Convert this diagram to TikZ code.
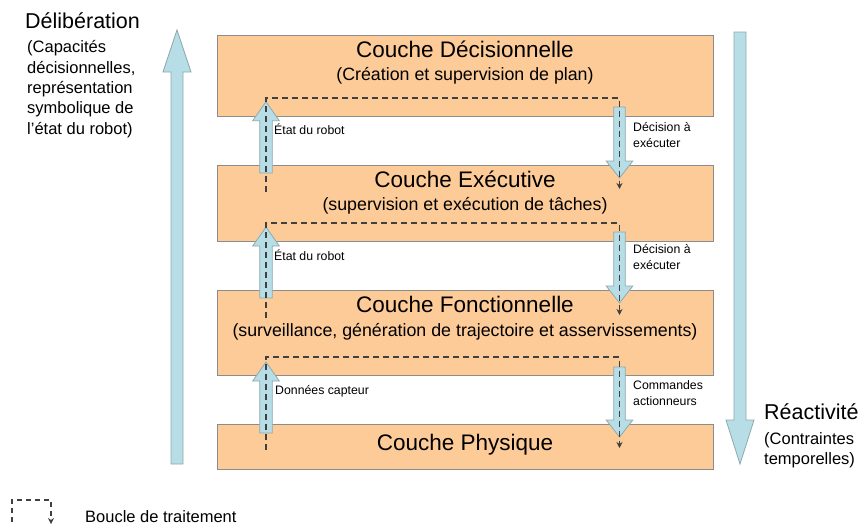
\documentclass[tikz,border=0pt]{standalone}
\usepackage{fontspec}
\setmainfont{Liberation Sans}
\usetikzlibrary{arrows.meta}
\definecolor{layerfill}{HTML}{FDCB98}
\definecolor{layerline}{HTML}{8C8C8C}
\definecolor{arrfill}{HTML}{B7DEE6}
\definecolor{arrline}{HTML}{8FA9AE}
\definecolor{loopcol}{HTML}{404040}
\tikzset{
  layer/.style={draw=layerline, fill=layerfill, line width=0.9pt},
  blockarrow/.style={draw=arrline, fill=arrfill, line width=0.8pt, line join=miter},
  loopline/.style={draw=loopcol, line width=1.7pt, dash pattern=on 6pt off 4pt, -{Stealth[length=6pt,width=6pt]}},
  title/.style={anchor=base, font=\fontsize{22.5}{25}\selectfont, inner sep=0pt},
  subtitle/.style={anchor=base, font=\fontsize{17.8}{20}\selectfont, inner sep=0pt},
  lbl/.style={anchor=base west, font=\fontsize{12.3}{16}\selectfont, inner sep=0pt, align=left},
  side/.style={anchor=base west, inner sep=0pt, align=left},
}
\begin{document}
\begin{tikzpicture}[x=1pt,y=-1pt]
\useasboundingbox (0,0) rectangle (862,531);
% layers
\path[layer] (217.5,35) rectangle (713,116);
\path[layer] (217.5,165) rectangle (713,241);
\path[layer] (217.5,290) rectangle (713,375);
\path[layer] (217.5,424) rectangle (713,469);
\node[title] (t1) at (465,57) {Couche Décisionnelle};
\node[subtitle] (s1) at (465,80) {(Création et supervision de plan)};
\node[title] (t2) at (465,187) {Couche Exécutive};
\node[subtitle] (s2) at (465,210) {(supervision et exécution de tâches)};
\node[title] (t3) at (465,312) {Couche Fonctionnelle};
\node[subtitle] (s3) at (465,336) {(surveillance, génération de trajectoire et asservissements)};
\node[title] (t4) at (465,450) {Couche Physique};
% big arrows
\path[blockarrow] (171,464) -- (171,72) -- (163,72) -- (177,30) -- (191,72) -- (183,72) -- (183,464) -- cycle;
\path[blockarrow] (734,32) -- (734,420) -- (726,420) -- (740,464) -- (754,420) -- (746,420) -- (746,32) -- cycle;
% small up arrows (centre x 266)
\foreach \t/\b in {101.7/173, 227/298, 362/433}{
  \path[blockarrow] (259.7,\b) -- (259.7,\t+19) -- (252.7,\t+19) -- (266,\t) -- (279.3,\t+19) -- (272.3,\t+19) -- (272.3,\b) -- cycle;
}
% small down arrows (centre x 619.5)
\foreach \t/\b in {107/178, 232/303, 367/437}{
  \path[blockarrow] (613.7,\t) -- (613.7,\b-17) -- (606.2,\b-17) -- (619.5,\b) -- (632.8,\b-17) -- (625.3,\b-17) -- (625.3,\t) -- cycle;
}
% processing loops
\coordinate (a1) at (266,192); \coordinate (b1) at (619.5,189);
\coordinate (a2) at (266,318); \coordinate (b2) at (619.5,315);
\coordinate (a3) at (266,450); \coordinate (b3) at (619.5,448);
\draw[loopline] (a1) |- (442,98) -| (b1);
\draw[loopline] (a2) |- (442,223) -| (b2);
\draw[loopline] (a3) |- (442,357) -| (b3);
% labels
\node[lbl] (l1) at (274,134) {État du robot};
\node[lbl] (l2) at (274,260) {État du robot};
\node[lbl] (l3) at (275,394) {Données capteur};
\node[lbl] (r1) at (633,147) {Décision à\\exécuter};
\node[lbl] (r2) at (633,269) {Décision à\\exécuter};
\node[lbl] (r3) at (633,405) {Commandes\\actionneurs};
% side texts
\node[side, font=\fontsize{21.5}{24}\selectfont] (delib) at (25,28) {Délibération};
\node[side, font=\fontsize{16.5}{20.3}\selectfont] (delibsub) at (27,134) {(Capacités\\décisionnelles,\\représentation\\symbolique de\\l’état du robot)};
\node[side, font=\fontsize{21.5}{24}\selectfont] (react) at (764,419) {Réactivité};
\node[side, font=\fontsize{16.5}{20}\selectfont] (reactsub) at (764,464) {(Contraintes\\temporelles)};
% legend
\coordinate (g1) at (12,522); \coordinate (g2) at (51,524);
\draw[loopline, line width=1.2pt, dash pattern=on 5pt off 4pt] (g1) |- (31,500) -| (g2);
\node[side, font=\fontsize{16.5}{20}\selectfont] (leg) at (85,522) {Boucle de traitement};
\end{tikzpicture}
\end{document}
